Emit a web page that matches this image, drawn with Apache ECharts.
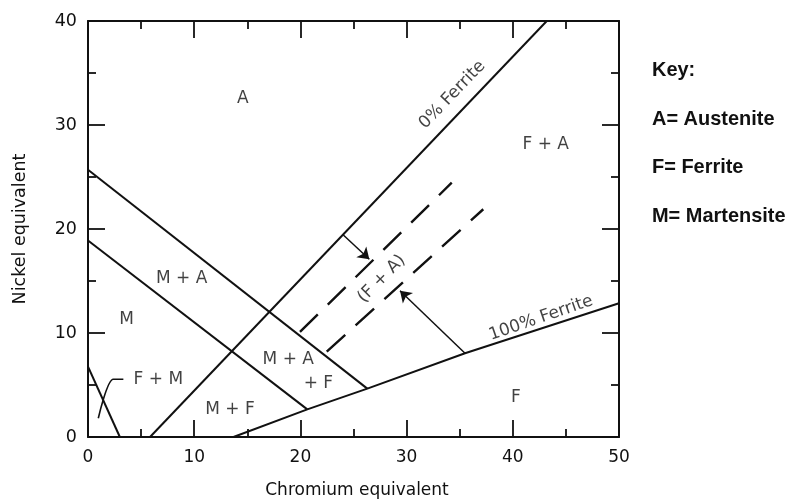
<!DOCTYPE html>
<html><head><meta charset="utf-8">
<script src="https://cdn.jsdelivr.net/npm/echarts@6/dist/echarts.min.js"></script>
<style>html,body{margin:0;padding:0;background:#fff}#c{width:789px;height:501px}</style>
</head><body><div id="c"></div>
<script>
// Boundary lines (Chromium equivalent, Nickel equivalent)
const upperMAX = [0, 26.3];           const upperMAY = [25.7, 4.65];
const lowerMX = [0, 20.65];           const lowerMY = [18.9, 2.66];
const zeroFerriteX = [5.84, 43.2];    const zeroFerriteY = [0, 40];
const fullFerriteX = [13.7, 20.65, 26.3, 35.5, 50];
const fullFerriteY = [0, 2.66, 4.65, 8.05, 12.86];
const fmX = [0, 3.0];                 const fmY = [6.76, 0];
const dashUpperX = [19.96, 34.25];    const dashUpperY = [10.1, 24.45];
const dashLowerX = [22.48, 37.22];    const dashLowerY = [8.2, 21.9];
const leaderX = [3.33, 2.38, 0.97];   const leaderY = [5.55, 5.55, 1.8];
const arrowFromX = [24.04, 35.5];     const arrowFromY = [19.42, 8.05];
const arrowToX = [26.49, 29.38];      const arrowToY = [17.09, 14.07];
// Region labels
const regionLabels = ['A', '0% Ferrite', 'F + A', '(F + A)', 'M + A', 'M', 'M + A', '+ F', 'F + M', 'M + F', 'F', '100% Ferrite'];
const regionX = [14.57, 34.3, 43.1, 27.65, 8.82, 3.64, 18.86, 21.69, 6.62, 13.37, 40.3, 42.66];
const regionY = [32.56, 32.9, 28.08, 15.2, 15.19, 11.25, 7.47, 5.1, 5.48, 2.66, 3.8, 11.44];
const regionRot = [0, 46, 0, 45, 0, 0, 0, 0, 0, 0, 0, 19];
// Key
const keyLines = ['Key:', 'A= Austenite', 'F= Ferrite', 'M= Martensite'];
const keyY = [70, 119, 167.5, 216];

const zip = (xs, ys) => xs.map((x, i) => [x, ys[i]]);
const FONT = 'DejaVu Sans';
const INK = '#111111';

function lineSeries(xs, ys, extra) {
  return Object.assign({
    type: 'line', data: zip(xs, ys), showSymbol: false, symbol: 'none',
    lineStyle: { color: INK, width: 2 }, silent: true, z: 3
  }, extra || {});
}

const tickCommon = {
  axisLine: { show: true, onZero: false, lineStyle: { color: INK, width: 2 } },
  axisTick: { show: true, inside: true, length: 17, lineStyle: { color: INK, width: 1.8 } },
  minorTick: { show: true, splitNumber: 2, length: 8, lineStyle: { color: INK, width: 1.8 } },
  splitLine: { show: false }, minorSplitLine: { show: false }
};

const chart = echarts.init(document.getElementById('c'), null, { renderer: 'canvas' });
chart.setOption({
  animation: false,
  backgroundColor: '#ffffff',
  grid: { left: 88, right: 170, top: 21, bottom: 64, outerBoundsMode: 'none', containLabel: false },
  xAxis: [
    Object.assign({
      type: 'value', min: 0, max: 50, interval: 10, position: 'bottom',
      axisLabel: { fontFamily: FONT, fontSize: 17, color: INK, margin: 12 },
      name: 'Chromium equivalent', nameLocation: 'middle', nameGap: 45,
      nameTextStyle: { fontFamily: FONT, fontSize: 17, color: INK, padding: [0, 0, 0, 7] }
    }, tickCommon),
    Object.assign({
      type: 'value', min: 0, max: 50, interval: 10, position: 'top',
      axisLabel: { show: false }
    }, tickCommon)
  ],
  yAxis: [
    Object.assign({
      type: 'value', min: 0, max: 40, interval: 10, position: 'left',
      axisLabel: { fontFamily: FONT, fontSize: 17.5, color: INK, margin: 11 },
      name: 'Nickel equivalent', nameLocation: 'middle', nameGap: 59, nameRotate: 90,
      nameTextStyle: { fontFamily: FONT, fontSize: 17.5, color: INK }
    }, tickCommon),
    Object.assign({
      type: 'value', min: 0, max: 40, interval: 10, position: 'right',
      axisLabel: { show: false }
    }, tickCommon)
  ],
  series: [
    lineSeries(upperMAX, upperMAY),
    lineSeries(lowerMX, lowerMY),
    lineSeries(zeroFerriteX, zeroFerriteY),
    lineSeries(fullFerriteX, fullFerriteY),
    lineSeries(fmX, fmY),
    lineSeries(leaderX, leaderY, { lineStyle: { color: INK, width: 1.6 }, smooth: 0.3 }),
    lineSeries(dashUpperX, dashUpperY, { lineStyle: { color: INK, width: 2.4, type: [25, 14], cap: 'butt' } }),
    lineSeries(dashLowerX, dashLowerY, { lineStyle: { color: INK, width: 2.4, type: [25, 14], cap: 'butt' } }),
    {
      type: 'line', data: [], silent: true,
      markLine: {
        silent: true, animation: false,
        symbol: ['none', 'arrow'], symbolSize: 11,
        label: { show: false },
        lineStyle: { color: INK, width: 1.5, type: 'solid' },
        data: arrowFromX.map((x, i) => [
          { coord: [x, arrowFromY[i]] },
          { coord: [arrowToX[i], arrowToY[i]] }
        ])
      }
    },
    {
      type: 'scatter', symbolSize: 0, silent: true, z: 5,
      data: regionLabels.map((t, i) => ({
        name: t, value: [regionX[i], regionY[i]],
        label: { rotate: regionRot[i] }
      })),
      label: {
        show: true, position: 'inside', formatter: p => p.name,
        fontFamily: FONT, fontSize: 17, color: INK
      }
    }
  ],
  graphic: keyLines.map((t, i) => ({
    type: 'text', x: 652, y: keyY[i], scaleX: 0.95,
    style: {
      text: t, fontFamily: 'Liberation Sans', fontWeight: 'bold', fontSize: 21,
      fill: '#111', verticalAlign: 'middle', align: 'left'
    }
  }))
});
</script>
</body></html>
